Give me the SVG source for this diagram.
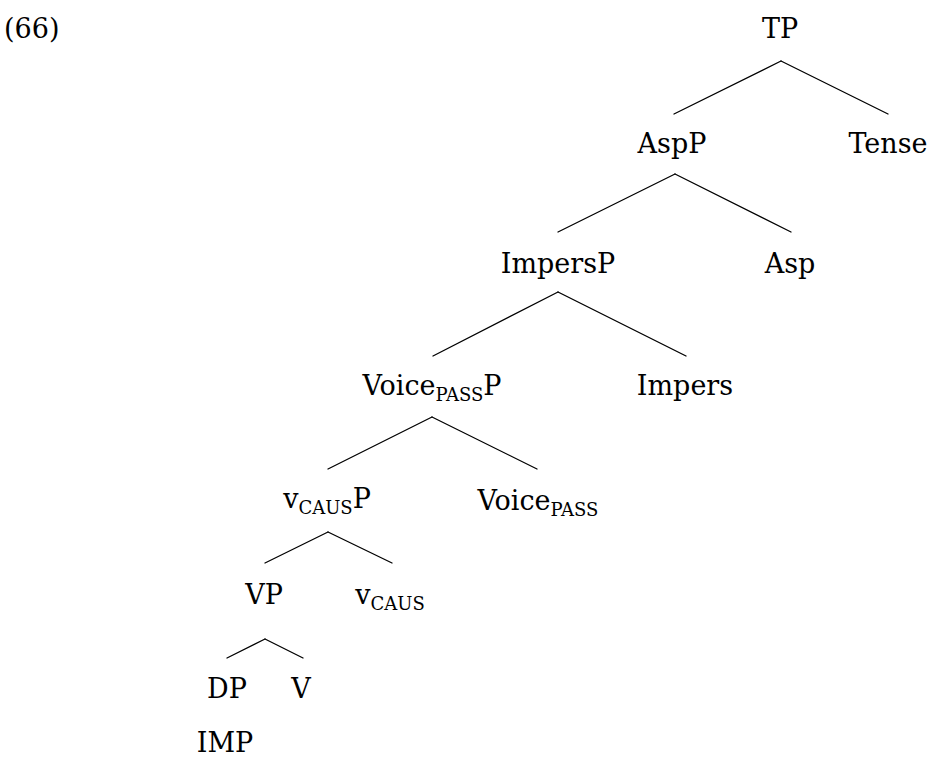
<svg xmlns="http://www.w3.org/2000/svg" width="927" height="757" viewBox="0 0 927 757">
<style>
text{font-family:"DejaVu Serif",serif;font-size:27px;fill:#000}
.m{text-anchor:middle}
.s{font-size:18px}
#connectors line{stroke:#000;stroke-width:1.3;stroke-linecap:round}
</style>
<rect width="927" height="757" fill="#fff"/>
<text x="4" y="38">(66)</text>
<g id="connectors">
<line x1="781" y1="61" x2="674" y2="114"/>
<line x1="781" y1="61" x2="888" y2="114"/>
<line x1="675" y1="174" x2="558" y2="232"/>
<line x1="675" y1="174" x2="791" y2="232"/>
<line x1="558" y1="292" x2="433" y2="356"/>
<line x1="558" y1="292" x2="686" y2="356"/>
<line x1="432" y1="417" x2="328" y2="469"/>
<line x1="432" y1="417" x2="537" y2="469"/>
<line x1="328" y1="532" x2="265" y2="563"/>
<line x1="328" y1="532" x2="392" y2="563"/>
<line x1="265" y1="639" x2="227" y2="658"/>
<line x1="265" y1="639" x2="303" y2="658"/>
</g>
<g id="TP"><text class="m" x="780" y="38">TP</text></g>
<g id="AspP"><text class="m" x="672" y="153">AspP</text></g>
<g id="Tense"><text class="m" x="888" y="153">Tense</text></g>
<g id="ImpersP"><text class="m" x="558" y="273">ImpersP</text></g>
<g id="Asp"><text class="m" x="790" y="273">Asp</text></g>
<g id="VoicePassP"><text class="m" x="432" y="395">Voice<tspan class="s" dy="6">PASS</tspan><tspan dy="-6">P</tspan></text></g>
<g id="Impers"><text class="m" x="685" y="395">Impers</text></g>
<g id="vCausP"><text class="m" x="327" y="508">v<tspan class="s" dy="6">CAUS</tspan><tspan dy="-6">P</tspan></text></g>
<g id="VoicePass"><text class="m" x="538" y="510">Voice<tspan class="s" dy="6">PASS</tspan></text></g>
<g id="VP"><text class="m" x="264" y="604">VP</text></g>
<g id="vCaus"><text class="m" x="390" y="604">v<tspan class="s" dy="6">CAUS</tspan></text></g>
<g id="DP"><text class="m" x="227" y="698">DP</text></g>
<g id="V"><text class="m" x="301" y="698">V</text></g>
<g id="IMP"><text class="m" x="225" y="752">IMP</text></g>
</svg>
